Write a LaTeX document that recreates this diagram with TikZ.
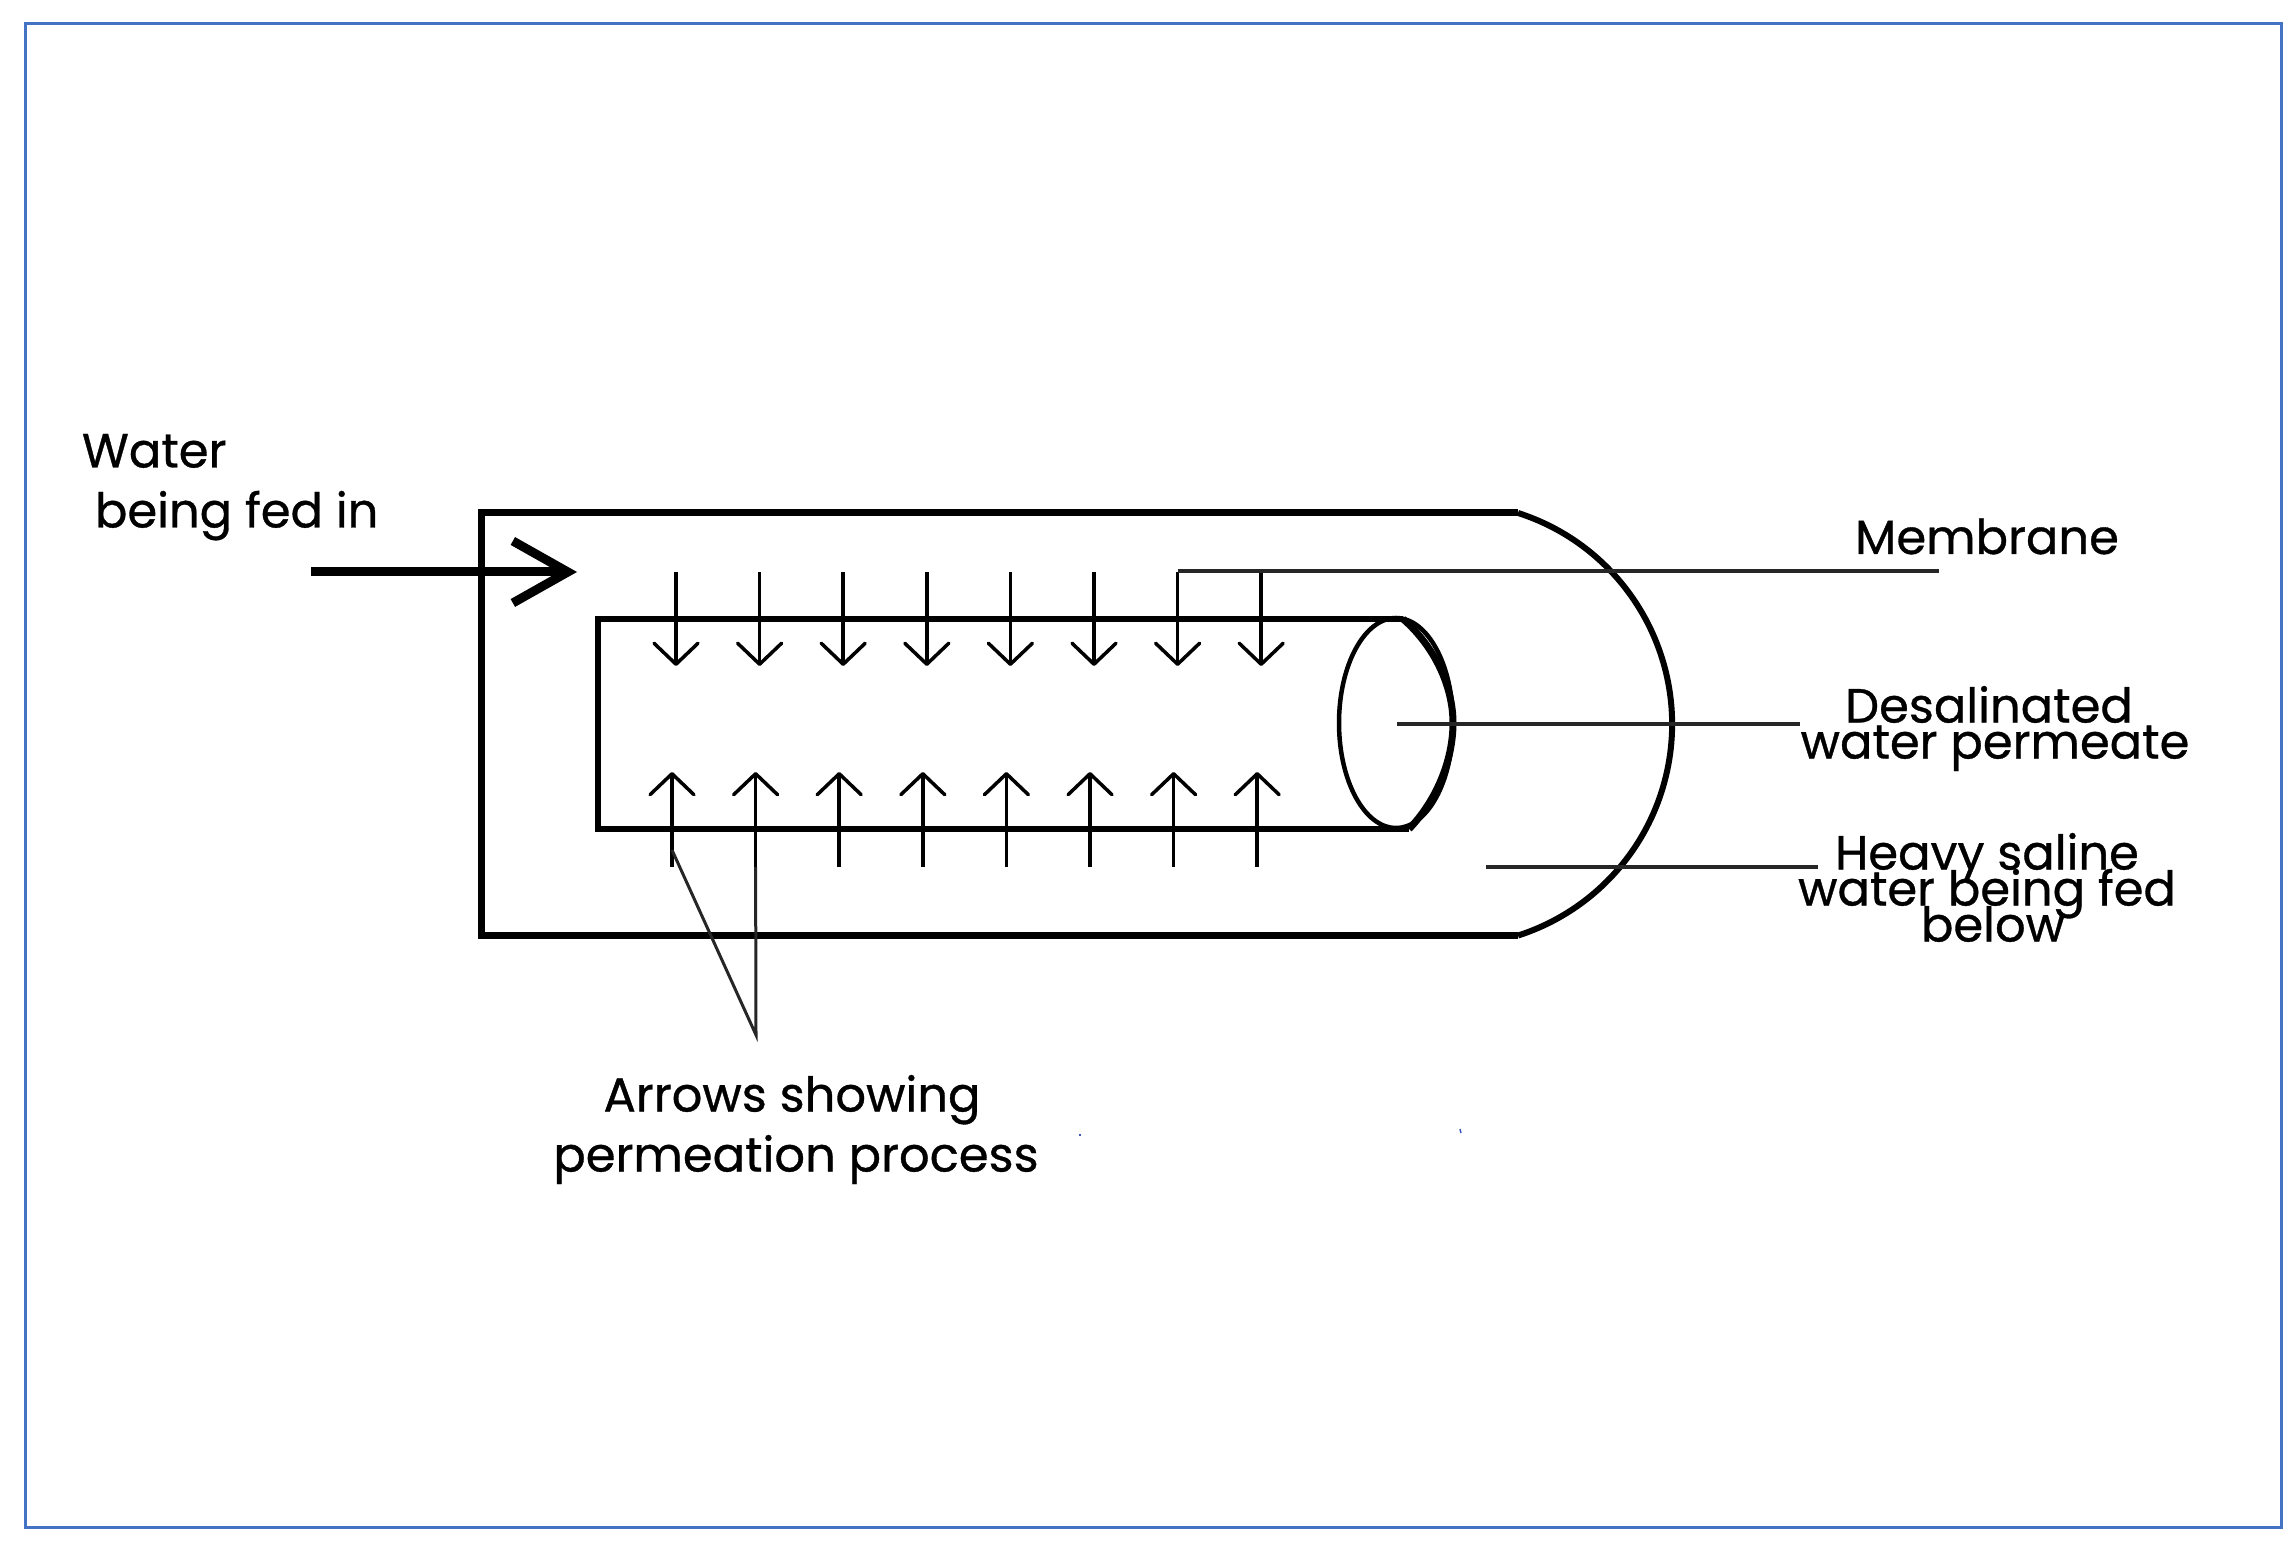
\documentclass[tikz,border=0pt]{standalone}
\usepackage{fontspec}
\setmainfont{Poppins}[RawFeature={embolden=0.7}]
\usetikzlibrary{arrows.meta}
\normallineskiplimit=-100pt\relax
\lineskiplimit=-100pt\relax
\tikzset{
  x=1pt,y=1pt,
  vessel/.style={draw=black,line width=7pt,line join=miter},
  flow/.style={draw=black,line width=3.5pt,-{Straight Barb[length=21pt,width=44pt,line width=3.5pt,round]}},
  feed/.style={draw=black,line width=9pt,-{Straight Barb[length=55pt,width=62pt,line width=9pt]}},
  leader/.style={draw=black!85,line width=3.5pt},
  lab/.style={inner sep=0pt,outer sep=0pt,text=black,font=\fontsize{48}{36}\selectfont},
  labw/.style={inner sep=0pt,outer sep=0pt,text=black,font=\fontsize{48}{60}\selectfont},
  speck/.style={draw={rgb,255:red,60;green,90;blue,190},line width=1.5pt}
}
\begin{document}
\begin{tikzpicture}
\useasboundingbox (0,0) rectangle (2292,1547);
\fill[white] (0,0) rectangle (2292,1547);
\draw[draw={rgb,255:red,68;green,114;blue,196},line width=3pt] (25,19) rectangle (2281,1523);
% outer vessel
\draw[vessel] (1518,1034) -- (481,1034) -- (481,611) -- (1518,611);
\draw[vessel,line width=6pt] (1518,1034) arc[start angle=72.2,end angle=-72.2,radius=221.9];
% membrane tube
\draw[vessel,line width=6.5pt] (1403,928) -- (598,928) -- (598,718) -- (1409,718);
\draw[draw=black,line width=4.5pt] (1396,824) ellipse[x radius=57,y radius=105];
\draw[draw=black,line width=7pt] (1403,928) .. controls (1435,900) and (1453,860) .. (1453,824) .. controls (1453,785) and (1435,745) .. (1409,718);
% feed arrow
\coordinate (feedS) at (311,975);
\coordinate (feedE) at (577,975);
\draw[feed] (feedS) -- (feedE);
% permeation arrows
\foreach \i in {0,...,7}{
  \coordinate (dS\i) at ({676+83.6*\i},975);
  \coordinate (dE\i) at ({676+83.6*\i},881);
  \draw[flow] (dS\i) -- (dE\i);
  \coordinate (uS\i) at ({672+83.6*\i},680);
  \coordinate (uE\i) at ({672+83.6*\i},775);
  \draw[flow] (uS\i) -- (uE\i);
}
% leaders
\coordinate (memE) at (1939,976);
\draw[leader] (dS6) ++(0,1) -- (memE);
\coordinate (desS) at (1397,823);
\coordinate (desE) at (1800,823);
\draw[leader] (desS) -- (desE);
\coordinate (hvS) at (1486,680);
\coordinate (hvE) at (1818,680);
\draw[leader,line width=4.5pt] (hvS) -- (hvE);
\coordinate (perA) at (672,697);
\coordinate (perB) at (756,512);
\draw[leader,line width=3pt] (perA) -- (perB) -- (uS1);
% labels
\node[labw,align=left,anchor=north west] (water) at (82,1113) {Water\\\hspace*{13pt}being fed in};
\node[lab,anchor=base] (membrane) at (1987,993) {Membrane};
\node[lab,align=center,anchor=north] (desal) at (1995,861) {Desalinated\hspace*{12pt}\\water permeate};
\node[lab,align=center,anchor=north] (heavy) at (1987,714) {Heavy saline\\water being fed\\\hspace*{12pt}below};
\node[labw,align=center,anchor=north] (perm) at (796,472) {Arrows showing\hspace*{8pt}\\permeation process};
% stray marks
\draw[speck] (1080,411) -- (1080,412.5);
\draw[speck] (1460,418) -- (1461,414);
\end{tikzpicture}
\end{document}
